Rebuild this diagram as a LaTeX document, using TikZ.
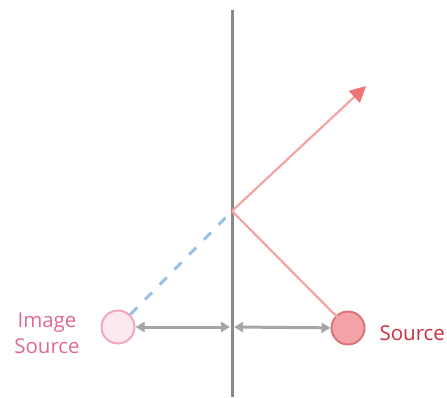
\documentclass[tikz,border=0pt]{standalone}
\usepackage{fontspec}
\setmainfont{Open Sans}
\usepackage{xcolor}
\usetikzlibrary{arrows.meta,positioning}
\definecolor{mirrorgray}{HTML}{8A8A8E}
\definecolor{distgray}{HTML}{A6A6A8}
\definecolor{rayred}{HTML}{F4A4A4}
\definecolor{tipred}{HTML}{F07474}
\definecolor{virtblue}{HTML}{9CC0E6}
\definecolor{srcfill}{HTML}{F4A4A6}
\definecolor{srcdraw}{HTML}{DC7480}
\definecolor{imgfill}{HTML}{FCE9F0}
\definecolor{imgdraw}{HTML}{F2A6BE}
\definecolor{srctext}{HTML}{C8303E}
\definecolor{imgtext}{HTML}{E06A8E}
\begin{document}
\begin{tikzpicture}[x=1pt,y=-1pt,font=\fontsize{20.5}{26}\selectfont,
    src/.style={circle,draw=srcdraw,fill=srcfill,line width=2pt,minimum size=33pt,inner sep=0pt},
    img/.style={circle,draw=imgdraw,fill=imgfill,line width=2pt,minimum size=33pt,inner sep=0pt},
    ray/.style={draw=rayred,line width=2.2pt},
    dist/.style={{Triangle[length=9pt,width=10pt]}-{Triangle[length=9pt,width=10pt]},draw=distgray,line width=3pt}]
\useasboundingbox (0,0) rectangle (447,397);
\coordinate (mtop) at (232,10);
\coordinate (mbot) at (232,397);
\coordinate (hit) at (232,211);
\coordinate (mfoot) at (232,327);
\coordinate (out) at (366,86);
\node[src] (s) at (348,328) {};
\node[img] (im) at (118,327) {};
% mirror
\draw[draw=mirrorgray,line width=3pt] (mtop)--(mbot);
% virtual ray
\draw[draw=virtblue,line width=3pt,dash pattern=on 10pt off 11pt] (im)--(hit);
% real rays
\draw[ray] (s.center)--(hit);
\draw[ray,-{Triangle[length=16pt,width=16pt,color=tipred]}] (hit)--(out);
% distances
\draw[dist] (im)--([xshift=-2pt]mfoot);
\draw[dist] ([xshift=2pt]mfoot)--(s);
\node[text=srctext,anchor=west] (slab) at (376,333) {Source};
\node[text=imgtext,align=center] (imlab) at (47,333) {Image\\Source};
\end{tikzpicture}
\end{document}
